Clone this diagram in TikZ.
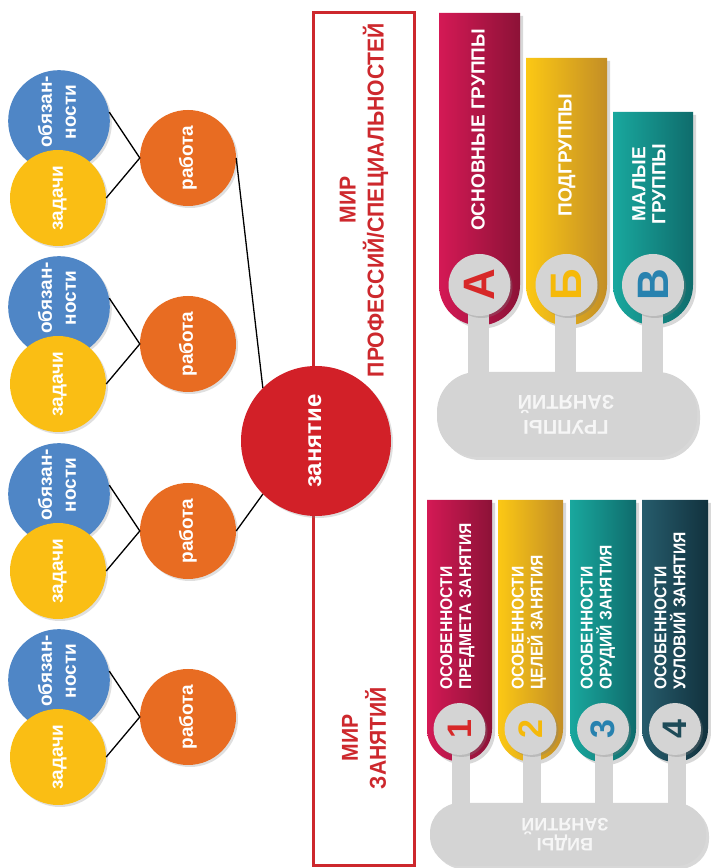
\documentclass[tikz,border=0pt]{standalone}
\usepackage{fontspec}
\setmainfont{Liberation Sans}
\newfontfamily\nar[FakeStretch=0.92]{Liberation Sans}
\usepackage{graphicx}
\usetikzlibrary{shadows}
\definecolor{cblue}{RGB}{79,134,198}
\definecolor{cyel}{RGB}{250,190,20}
\definecolor{corange}{RGB}{232,108,34}
\definecolor{cred}{RGB}{210,32,40}
\definecolor{rectred}{RGB}{205,40,45}
\definecolor{crimL}{RGB}{212,25,85}
\definecolor{crimR}{RGB}{140,18,55}
\definecolor{yelL}{RGB}{252,200,20}
\definecolor{yelR}{RGB}{195,142,38}
\definecolor{tealL}{RGB}{25,168,158}
\definecolor{tealR}{RGB}{15,108,108}
\definecolor{dtealL}{RGB}{38,92,108}
\definecolor{dtealR}{RGB}{18,50,62}
\definecolor{cgrey}{RGB}{212,212,212}
\definecolor{ltxt}{RGB}{246,246,246}
\definecolor{letA}{RGB}{215,40,40}
\definecolor{letB}{RGB}{245,185,10}
\definecolor{letV}{RGB}{40,130,175}
\definecolor{num4}{RGB}{30,75,88}
\newcommand{\rtxt}[1]{\rotatebox{90}{\begin{tabular}{@{}c@{}}#1\end{tabular}}}
\newcommand{\rtxtup}[1]{\rotatebox{90}{\hspace*{18pt}\begin{tabular}{@{}c@{}}#1\end{tabular}}}
\newcommand{\ibar}[6]{\path[left color=#5, right color=#6, drop shadow={opacity=0.3,shadow xshift=3pt,shadow yshift=-3pt}] (#1,#3) -- (#2,#3) -- (#2,#4) arc[start angle=0,end angle=-180,radius={(#2-#1)/2}] -- cycle;}
\tikzset{
  circ/.style={circle, inner sep=0pt, text=white, font=\bfseries\fontsize{19}{24}\selectfont,
    drop shadow={opacity=0.25, shadow xshift=2pt, shadow yshift=-2pt}},
  bluec/.style={circ, fill=cblue, minimum size=95pt},
  yelc/.style={circ, fill=cyel, minimum size=96pt},
  orc/.style={circ, fill=corange, minimum size=96pt},
  conn/.style={draw=black, line width=1.3pt},
  mirtxt/.style={rotate=90, text=rectred, align=center, inner sep=0pt,
    font=\nar\bfseries\fontsize{23}{28}\selectfont},
  bartxt/.style={rotate=90, text=white, align=center, inner sep=0pt,
    font=\bfseries\fontsize{19}{20}\selectfont},
  vtxt/.style={rotate=90, text=white, align=left, inner sep=0pt, anchor=west,
    font=\nar\bfseries\fontsize{17}{19}\selectfont},
  gcirc/.style={circle, fill=cgrey, inner sep=0pt,
    drop shadow={opacity=0.3, shadow xshift=2pt, shadow yshift=-2pt}},
  letter/.style={rotate=90, inner sep=0pt, font=\bfseries\fontsize{44}{44}\selectfont},
  numb/.style={rotate=90, inner sep=0pt, font=\bfseries\fontsize{34}{34}\selectfont},
  blobtxt/.style={rotate=180, text=ltxt, align=center, inner sep=0pt},
  stem/.style={fill=cgrey}
}
\begin{document}
\begin{tikzpicture}[x=1pt,y=1pt]
\useasboundingbox (0,0) rectangle (711,868);
\fill[white] (0,0) rectangle (711,868);

% ---- framed band ----
\draw[rectred, line width=3pt] (313,2) rectangle (414,855);
\node[mirtxt] (mir1) at (364,668) {МИР\\ПРОФЕССИЙ/СПЕЦИАЛЬНОСТЕЙ};
\node[mirtxt] (mir2) at (364,130) {МИР\\ЗАНЯТИЙ};

% ---- left circles ----
\node[bluec] (b1) at (59,747) {\rtxtup{обязан-\\ности}};
\node[yelc]  (y1) at (58,670) {\rtxt{задачи}};
\node[orc]   (r1) at (188,710) {\rtxt{работа}};
\node[bluec] (b2) at (59,561) {\rtxtup{обязан-\\ности}};
\node[yelc]  (y2) at (58,484) {\rtxt{задачи}};
\node[orc]   (r2) at (188,524) {\rtxt{работа}};
\node[bluec] (b3) at (59,374) {\rtxtup{обязан-\\ности}};
\node[yelc]  (y3) at (58,297) {\rtxt{задачи}};
\node[orc]   (r3) at (188,337) {\rtxt{работа}};
\node[bluec] (b4) at (59,188) {\rtxtup{обязан-\\ности}};
\node[yelc]  (y4) at (58,111) {\rtxt{задачи}};
\node[orc]   (r4) at (188,151) {\rtxt{работа}};

\node[circ, fill=cred, minimum size=150pt, font=\bfseries\fontsize{24}{26}\selectfont] (z) at (316,427) {\rtxt{занятие}};

\foreach \i in {1,2,3,4}{
  \draw[conn] (b\i.10) -- (r\i.west) -- (y\i.east);
}
\draw[conn] (r1.east) -- (z.135);
\draw[conn] (r3.east) -- (z.225);

% ---- top infographic: groups ----
\ibar{439}{520}{855}{583}{crimL}{crimR}
\ibar{526}{607}{810}{583}{yelL}{yelR}
\ibar{613}{693}{756}{583}{tealL}{tealR}
\fill[stem] (467.5,583) rectangle (488.5,470);
\fill[stem] (554.5,583) rectangle (575.5,470);
\fill[stem] (641.5,583) rectangle (662.5,470);
\fill[cgrey, rounded corners=40pt, drop shadow={opacity=0.3,shadow xshift=3pt,shadow yshift=-3pt}] (437,411) rectangle (697,496);
\node[gcirc, minimum size=62pt] (cA) at (479.5,583) {};
\node[gcirc, minimum size=62pt] (cB) at (566.5,583) {};
\node[gcirc, minimum size=62pt] (cV) at (653,583) {};
\node[letter, text=letA] (lA) at (cA) {А};
\node[letter, text=letB] (lB) at (cB) {Б};
\node[letter, text=letV] (lV) at (cV) {В};
\node[bartxt] (tA) at (478,738) {ОСНОВНЫЕ ГРУППЫ};
\node[bartxt] (tB) at (567,713) {ПОДГРУППЫ};
\node[bartxt] (tV) at (649,684) {МАЛЫЕ\\ГРУППЫ};
\node[blobtxt, font=\bfseries\fontsize{20}{25}\selectfont] (gz) at (566,453) {ГРУППЫ\\ЗАНЯТИЙ};

% ---- bottom infographic: kinds ----
\ibar{427}{492}{368}{139}{crimL}{crimR}
\ibar{498}{563}{368}{139}{yelL}{yelR}
\ibar{570}{636}{368}{139}{tealL}{tealR}
\ibar{642}{708}{368}{139}{dtealL}{dtealR}
\fill[stem] (452,139) rectangle (470,40);
\fill[stem] (523,139) rectangle (541,40);
\fill[stem] (595,139) rectangle (613,40);
\fill[stem] (668,139) rectangle (686,40);
\fill[cgrey, rounded corners=30pt, drop shadow={opacity=0.3,shadow xshift=3pt,shadow yshift=-3pt}] (430,2) rectangle (706,65);
\node[gcirc, minimum size=52pt] (c1) at (459.5,139) {};
\node[gcirc, minimum size=52pt] (c2) at (530.5,139) {};
\node[gcirc, minimum size=52pt] (c3) at (603,139) {};
\node[gcirc, minimum size=52pt] (c4) at (675,139) {};
\node[numb, text=letA] (n1) at (c1) {1};
\node[numb, text=letB] (n2) at (c2) {2};
\node[numb, text=letV] (n3) at (c3) {3};
\node[numb, text=num4] (n4) at (c4) {4};
\node[vtxt] (t1) at (457.5,178) {ОСОБЕННОСТИ\\ПРЕДМЕТА ЗАНЯТИЯ};
\node[vtxt] (t2) at (529,178) {ОСОБЕННОСТИ\\ЦЕЛЕЙ ЗАНЯТИЯ};
\node[vtxt] (t3) at (598,178) {ОСОБЕННОСТИ\\ОРУДИЙ ЗАНЯТИЯ};
\node[vtxt] (t4) at (670,178) {ОСОБЕННОСТИ\\УСЛОВИЙ ЗАНЯТИЯ};
\node[blobtxt, font=\bfseries\fontsize{18}{20}\selectfont] (vz) at (565,33) {ВИДЫ\\ЗАНЯТИЙ};
\end{tikzpicture}
\end{document}
